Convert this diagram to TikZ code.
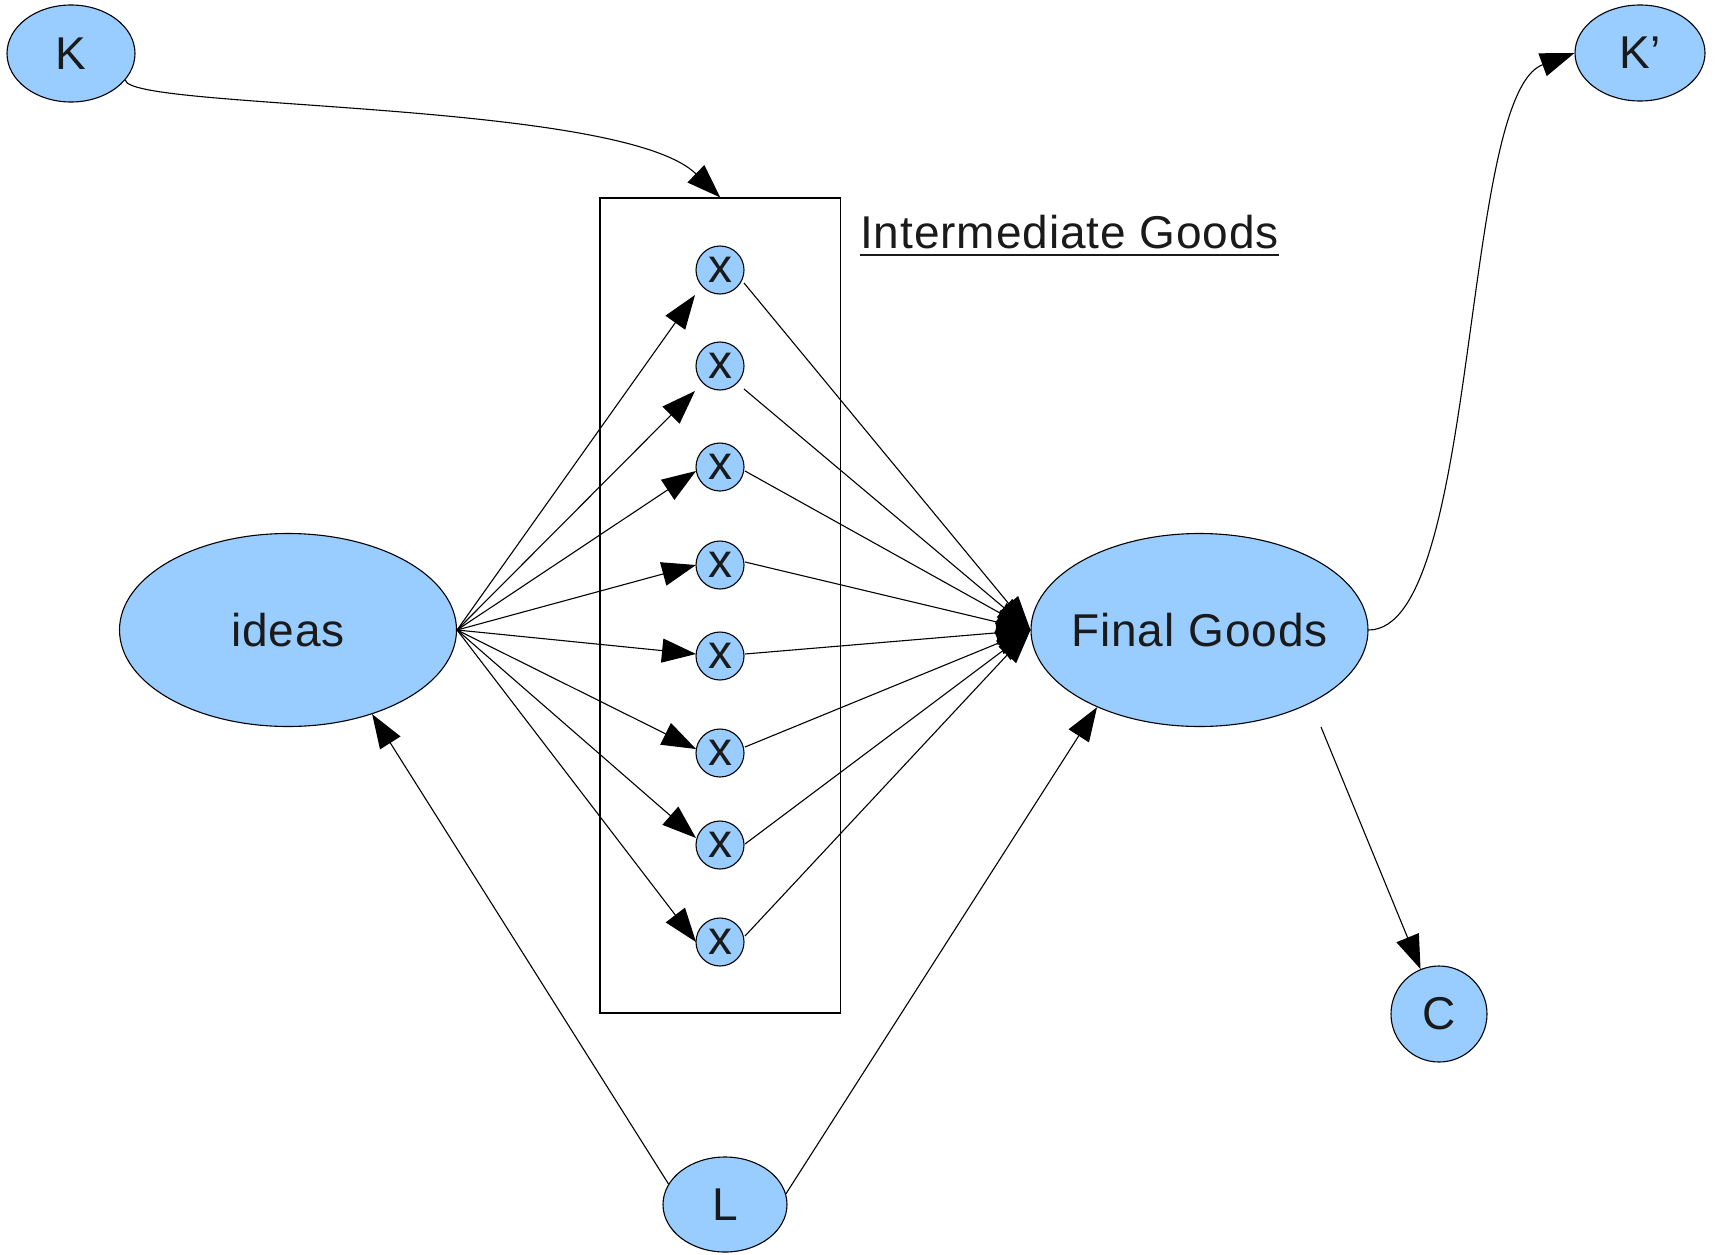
\documentclass[tikz,border=0pt]{standalone}
\usepackage{fontspec}
\setmainfont{Liberation Sans}[LetterSpace=2]
\usetikzlibrary{shapes.geometric,arrows.meta,calc}
\definecolor{nodefill}{HTML}{99CCFF}
\definecolor{txt}{HTML}{1A1A1A}
\newcommand{\myuline}[1]{\setbox0\hbox{#1}\rlap{\rule[-8pt]{\wd0}{2pt}}\box0}
\begin{document}
\begin{tikzpicture}[x=1pt,y=-1pt,
  every node/.style={text=txt, font=\fontsize{46}{54}\selectfont},
  ell/.style={ellipse, draw, fill=nodefill, line width=1.1pt, inner sep=0},
  xnode/.style={circle, draw, fill=nodefill, line width=1.1pt, inner sep=0, minimum size=48, font=\fontsize{48}{54}\selectfont},
  arr/.style={line width=1.1pt, -{Triangle[length=34pt,width=24pt]}},
]
\useasboundingbox (0,0) rectangle (1716,1255);

% box of intermediate goods
\node[draw, line width=1.1pt, minimum width=240.5, minimum height=815, inner sep=0] (box) at (720.25,605.5) {};
\node[anchor=base west, inner sep=0] (title) at (860,248) {\myuline{Intermediate Goods}};

% main nodes
\node[ell, minimum width=128, minimum height=97] (K) at (71,53.5) {K};
\node[ell, minimum width=130, minimum height=96] (Kp) at (1640,53) {K’};
\node[ell, minimum width=337, minimum height=193] (ideas) at (288,630) {\makebox[0pt]{ideas}};
\node[ell, minimum width=337, minimum height=193] (fg) at (1199.5,630) {\makebox[0pt]{Final Goods}};
\node[circle, draw, fill=nodefill, line width=1.1pt, inner sep=0, minimum size=96] (C) at (1439,1014) {C};
\node[ell, minimum width=124, minimum height=95] (L) at (725,1204.5) {L};

% intermediate x nodes
\node[xnode] (x1) at (720,270) {\raisebox{-3pt}{x}};
\node[xnode] (x2) at (720,366) {\raisebox{-3pt}{x}};
\node[xnode] (x3) at (720,467) {\raisebox{-3pt}{x}};
\node[xnode] (x4) at (720,565) {\raisebox{-3pt}{x}};
\node[xnode] (x5) at (720,656) {\raisebox{-3pt}{x}};
\node[xnode] (x6) at (720,753) {\raisebox{-3pt}{x}};
\node[xnode] (x7) at (720,845) {\raisebox{-3pt}{x}};
\node[xnode] (x8) at (720,942) {\raisebox{-3pt}{x}};

% ideas -> x
\draw[arr] (ideas.east) -- ($(x1)+(-25,25)$);
\draw[arr] (ideas.east) -- ($(x2)+(-25,25)$);
\draw[arr] (ideas.east) -- ($(x3)+(-24,4)$);
\draw[arr] (ideas.east) -- ($(x4)+(-24,0)$);
\draw[arr] (ideas.east) -- ($(x5)+(-24,-2)$);
\draw[arr] (ideas.east) -- ($(x6)+(-24,-4)$);
\draw[arr] (ideas.east) -- ($(x7)+(-24,-7)$);
\draw[arr] (ideas.east) -- ($(x8)+(-24,0)$);

% x -> final goods
\draw[arr] ($(x1)+(24,13)$) -- (fg.west);
\draw[arr] ($(x2)+(24,23)$) -- (fg.west);
\draw[arr] ($(x3)+(25,4)$) -- (fg.west);
\draw[arr] ($(x4)+(25,-3)$) -- (fg.west);
\draw[arr] ($(x5)+(25,-2)$) -- (fg.west);
\draw[arr] ($(x6)+(25,-6)$) -- (fg.west);
\draw[arr] ($(x7)+(25,-1)$) -- (fg.west);
\draw[arr] ($(x8)+(25,-6)$) -- (fg.west);

% K -> box
\draw[arr] (K.-26) .. controls (127,110) and (620,100) .. (box.north);

% final goods -> K'
\draw[arr] (fg.east) .. controls (1480,630) and (1460,95) .. (Kp.west);

% final goods -> C
\coordinate (fgc) at (1321,727);
\draw[arr] (fgc) -- (C);

% L -> ideas, L -> final goods
\draw[arr] (L.160) -- (ideas.-45);
\draw[arr] (L.10) -- (fg.217);
\end{tikzpicture}
\end{document}
